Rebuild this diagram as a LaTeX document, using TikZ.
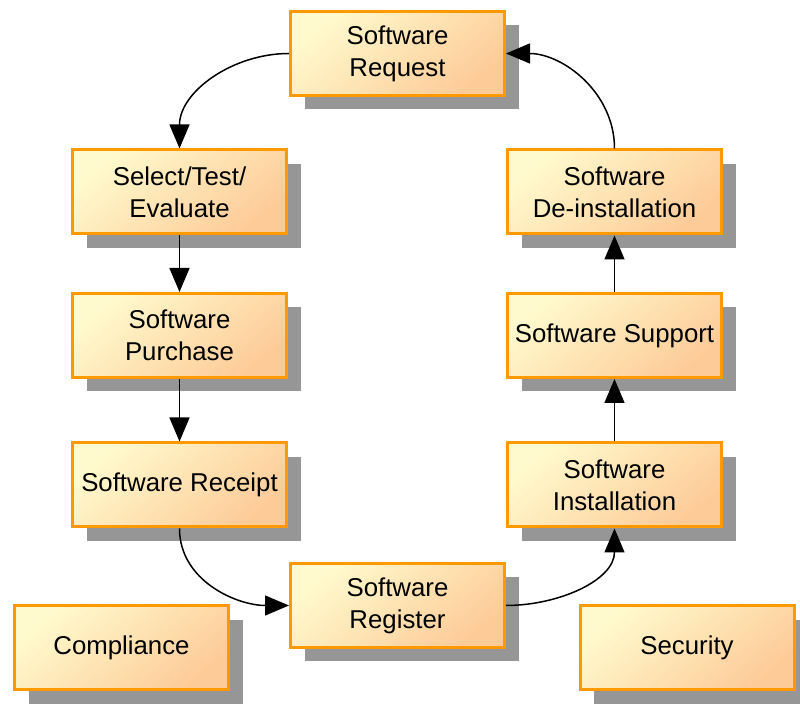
\documentclass[tikz,border=0pt]{standalone}
\usepackage{fontspec}
\setmainfont{Liberation Sans}
\usetikzlibrary{arrows.meta,shadows}
\definecolor{boxlight}{RGB}{255,250,205}
\definecolor{boxdark}{RGB}{253,203,152}
\definecolor{boxline}{RGB}{255,153,0}
\definecolor{shadowgray}{RGB}{150,150,150}
\tikzset{
  stage/.style={draw=boxline, line width=1.5pt, top color=boxlight, bottom color=boxdark,
    shading angle=40, minimum width=107pt, minimum height=42pt, inner sep=0pt,
    align=center, font=\fontsize{12.9}{16}\selectfont,
    drop shadow={shadow xshift=7pt, shadow yshift=-7pt, fill=shadowgray, opacity=1}},
  flow/.style={line width=0.75pt, -{Triangle[length=12pt,width=10pt]}}
}
\begin{document}
\begin{tikzpicture}[x=0.5pt,y=-0.5pt]
            \useasboundingbox (0,0) rectangle (800,704);
            % boxes of the cycle
            \node[stage] (request) at (397.5,53.5) {Software\\Request};
            \node[stage] (select) at (179.5,192) {Select/Test/\\Evaluate};
            \node[stage] (purchase) at (179.5,335.5) {Software\\Purchase};
            \node[stage] (receipt) at (179.5,485) {Software Receipt};
            \node[stage] (register) at (397.5,605.5) {Software\\Register};
            \node[stage] (install) at (614.5,485) {Software\\Installation};
            \node[stage] (support) at (614.5,335.5) {Software Support};
            \node[stage] (deinstall) at (614.5,192) {Software\\De-installation};
            % side boxes
            \node[stage] (compliance) at (121.5,648) {Compliance};
            \node[stage] (security) at (687,648) {Security};
            % arrows
            \draw[flow] (request.west) to[out=180,in=90] (select.north);
            \draw[flow] (select) -- (purchase);
            \draw[flow] (purchase) -- (receipt);
            \draw[flow] (receipt.south) to[out=-90,in=180] (register.west);
            \draw[flow] (register.east) to[out=0,in=-90] (install.south);
            \draw[flow] (install) -- (support);
            \draw[flow] (support) -- (deinstall);
            \draw[flow] (deinstall.north) to[out=90,in=0] (request.east);
\end{tikzpicture}
\end{document}
